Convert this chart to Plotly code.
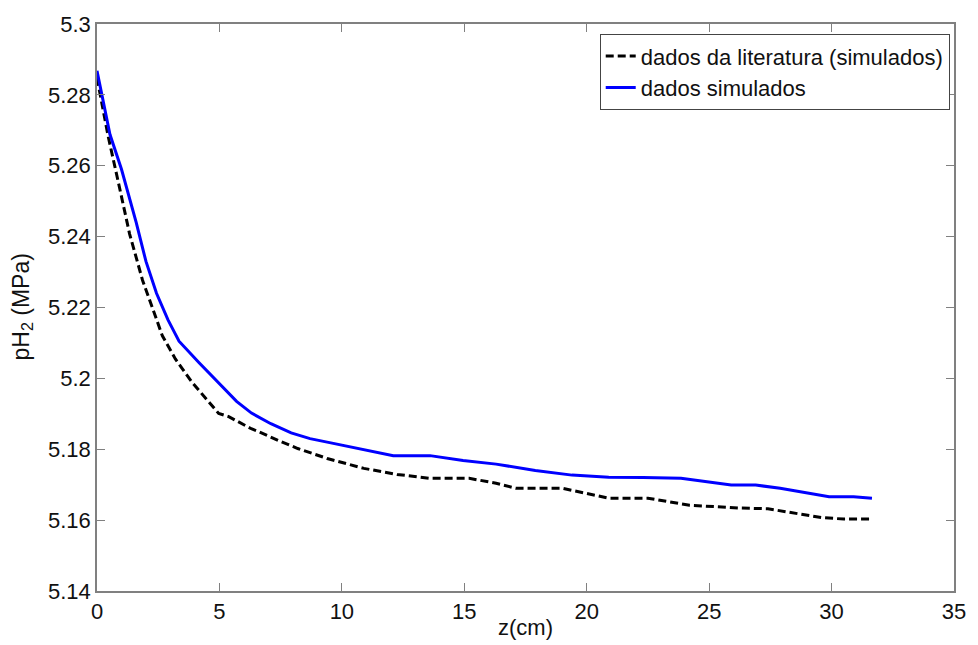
import plotly.graph_objects as go

# Hydrogen partial pressure along the reactor length
z_lit = [0, 0.45, 0.93, 1.33, 1.86, 2.67, 3.2, 3.88, 4.97, 5.38, 6.3, 6.59, 7.4,
         8.2, 9.4, 10.9, 12.25, 13.6, 15.2, 16.3, 17.1, 19.0, 20.9, 22.5, 24.2,
         26.3, 27.4, 28.4, 29.6, 30.5, 31.65]
p_lit = [5.2848, 5.2685, 5.2535, 5.2408, 5.2277, 5.2120, 5.2055, 5.1989, 5.1901,
         5.1892, 5.1858, 5.1850, 5.1825, 5.1802, 5.1774, 5.1746, 5.1729, 5.1718,
         5.1718, 5.1704, 5.1690, 5.1690, 5.1662, 5.1662, 5.1642, 5.1634, 5.1632,
         5.1620, 5.1607, 5.1603, 5.1603]

z_sim = [0, 0.25, 0.53, 1.0, 1.33, 1.6, 2.0, 2.43, 2.9, 3.35, 4.16, 4.85, 5.7, 6.31,
         7.1, 7.93, 8.7, 9.55, 10.9, 12.1, 13.6, 14.95, 16.3, 17.9, 19.4, 20.9,
         22.3, 23.85, 25.9, 26.9, 27.9, 28.9, 29.9, 30.9, 31.65]
p_sim = [5.2868, 5.2785, 5.2688, 5.2590, 5.2511, 5.2440, 5.2330, 5.2240, 5.2165,
         5.2105, 5.2045, 5.1995, 5.1935, 5.1902, 5.1872, 5.1846, 5.1830, 5.1818,
         5.1799, 5.1782, 5.1782, 5.1768, 5.1758, 5.1740, 5.1727, 5.1721, 5.1720,
         5.1718, 5.1699, 5.1699, 5.1690, 5.1678, 5.1666, 5.1666, 5.1662]

x_ticks = [0, 5, 10, 15, 20, 25, 30, 35]
y_ticks = [5.14, 5.16, 5.18, 5.20, 5.22, 5.24, 5.26, 5.28, 5.30]
y_labels = ["5.14", "5.16", "5.18", "5.2", "5.22", "5.24", "5.26", "5.28", "5.3"]

FONT = "Liberation Sans, Arial, sans-serif"
AXIS_GRAY = "#808080"
TEXT = "#111111"

fig = go.Figure()
fig.add_trace(go.Scatter(
    x=z_lit, y=p_lit, mode="lines", name="dados da literatura (simulados)",
    line=dict(color="black", width=3, dash="8px,4px"),
))
fig.add_trace(go.Scatter(
    x=z_sim, y=p_sim, mode="lines", name="dados simulados",
    line=dict(color="#0000ff", width=3),
))

axis_common = dict(
    showgrid=False, zeroline=False, showline=True, linecolor=AXIS_GRAY,
    linewidth=1.5, mirror="ticks", ticks="inside", ticklen=8,
    tickcolor=AXIS_GRAY, tickwidth=1,
    tickfont=dict(family=FONT, size=22, color=TEXT),
)

fig.update_layout(
    width=978, height=645,
    margin=dict(l=97, r=15, t=18, b=54),
    paper_bgcolor="white", plot_bgcolor="white",
    xaxis=dict(range=[0, 35], tickvals=x_ticks, **axis_common),
    yaxis=dict(range=[5.14, 5.30], tickvals=y_ticks, ticktext=y_labels,
               **axis_common),
    legend=dict(
        x=0.995, y=0.982, xanchor="right", yanchor="top",
        bgcolor="white", bordercolor="#444444", borderwidth=1,
        font=dict(family=FONT, size=22, color=TEXT),
        tracegroupgap=0,
    ),
    annotations=[
        dict(text="z(cm)", xref="paper", yref="paper", x=0.5, y=0,
             yshift=-36, showarrow=False, yanchor="middle",
             font=dict(family=FONT, size=22, color=TEXT)),
        dict(text="pH<sub>2</sub> (MPa)", xref="paper", yref="paper",
             x=0, y=0.5, xshift=-75, showarrow=False, textangle=-90,
             xanchor="center", yanchor="middle",
             font=dict(family=FONT, size=23, color=TEXT)),
    ],
    showlegend=True,
)

fig.write_html("out.html")
